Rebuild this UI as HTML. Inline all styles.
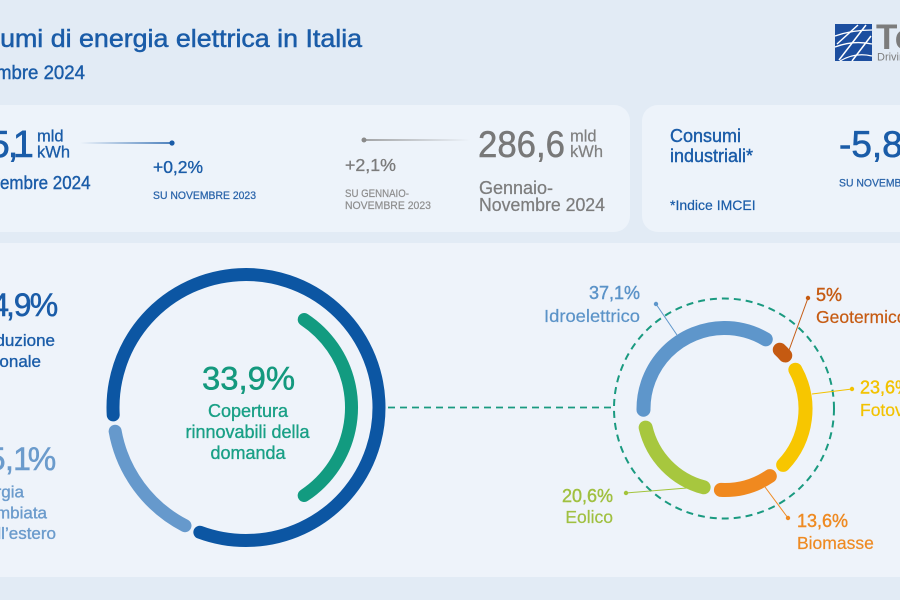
<!DOCTYPE html>
<html><head><meta charset="utf-8"><style>
html,body{margin:0;padding:0;background:#e2ebf5;}
svg{display:block;font-family:"Liberation Sans",Arial,sans-serif;}
</style></head><body>
<svg xmlns="http://www.w3.org/2000/svg" width="900" height="600" viewBox="0 0 900 600">
<defs>
<linearGradient id="g1" gradientUnits="userSpaceOnUse" x1="80" y1="0" x2="172" y2="0"><stop offset="0" stop-color="#1a5ca8" stop-opacity="0"/><stop offset="1" stop-color="#1a5ca8"/></linearGradient>
<linearGradient id="g2" gradientUnits="userSpaceOnUse" x1="364" y1="0" x2="470" y2="0"><stop offset="0" stop-color="#8a8a8a"/><stop offset="1" stop-color="#8a8a8a" stop-opacity="0"/></linearGradient>
</defs>
<rect width="900" height="600" fill="#e2ebf5"/>
<rect x="-20" y="105" width="650" height="127" rx="16" fill="#edf3fa"/>
<rect x="642" y="105" width="300" height="127" rx="16" fill="#edf3fa"/>
<rect x="-20" y="243" width="940" height="334" fill="#eef3fa"/>

<!-- Header -->
<text x="-62.5" y="47" font-size="25" textLength="424.6" lengthAdjust="spacingAndGlyphs" fill="#1a5ca8" stroke="#1a5ca8" stroke-width="0.5">Consumi di energia elettrica in Italia</text>
<text x="-47.5" y="79" font-size="19" textLength="132.5" lengthAdjust="spacingAndGlyphs" fill="#1a5ca8" stroke="#1a5ca8" stroke-width="0.4">Novembre 2024</text>

<!-- Logo -->
<rect x="835" y="24" width="37" height="37" fill="#1c4e9f"/>
<path d="M837 44 L858 25 M839 60 L866 25 M852 61 L871 36" stroke="#fff" stroke-width="1.5" fill="none"/>
<path d="M835 36 Q852 30 872 30 M835 47 Q853 40 872 44 M840 61 Q855 52 872 56" stroke="#fff" stroke-width="1.3" fill="none"/>
<text x="876" y="49" font-size="35" font-weight="bold" fill="#7c7c7c">Terna</text>
<text x="877" y="60.5" font-size="11" fill="#7c7c7c">Driving Energy</text>

<!-- Card 1 -->
<text x="-32 -11.4 7.7 12.8" y="157" font-size="38" fill="#1a5ca8" stroke="#1a5ca8" stroke-width="0.6">25,1</text>
<text x="37" y="141.5" font-size="16.5" fill="#1a5ca8" stroke="#1a5ca8" stroke-width="0.3">mld</text>
<text x="37" y="157.5" font-size="16.5" fill="#1a5ca8" stroke="#1a5ca8" stroke-width="0.3">kWh</text>
<text x="-30.2" y="189" font-size="18.5" textLength="120.7" lengthAdjust="spacingAndGlyphs" fill="#1a5ca8" stroke="#1a5ca8" stroke-width="0.4">Novembre 2024</text>
<line x1="80" y1="143" x2="172" y2="143" stroke="url(#g1)" stroke-width="1.6"/>
<circle cx="172" cy="143" r="2.6" fill="#1a5ca8"/>
<text x="153" y="173" font-size="17.5" textLength="50" lengthAdjust="spacingAndGlyphs" fill="#1a5ca8" stroke="#1a5ca8" stroke-width="0.35">+0,2%</text>
<text x="153" y="199" font-size="11" textLength="103" lengthAdjust="spacingAndGlyphs" fill="#2a64aa" stroke="#2a64aa" stroke-width="0.25">SU NOVEMBRE 2023</text>

<circle cx="364" cy="140" r="2.5" fill="#8a8a8a"/>
<line x1="364" y1="140" x2="470" y2="140" stroke="url(#g2)" stroke-width="1.6"/>
<text x="345" y="171" font-size="17.5" textLength="51" lengthAdjust="spacingAndGlyphs" fill="#7b7b7b" stroke="#7b7b7b" stroke-width="0.3">+2,1%</text>
<text x="345" y="197" font-size="11" textLength="64" lengthAdjust="spacingAndGlyphs" fill="#8d8d8d" stroke="#8d8d8d" stroke-width="0.2">SU GENNAIO-</text>
<text x="345" y="209" font-size="11" textLength="86" lengthAdjust="spacingAndGlyphs" fill="#8d8d8d" stroke="#8d8d8d" stroke-width="0.2">NOVEMBRE 2023</text>
<text x="478" y="157" font-size="37.5" textLength="87" lengthAdjust="spacingAndGlyphs" fill="#787878" stroke="#787878" stroke-width="0.5">286,6</text>
<text x="570" y="141.5" font-size="16.5" fill="#808080" stroke="#808080" stroke-width="0.2">mld</text>
<text x="570" y="157" font-size="16.5" fill="#808080" stroke="#808080" stroke-width="0.2">kWh</text>
<text x="479" y="194" font-size="18" fill="#7d7d7d" stroke="#7d7d7d" stroke-width="0.25">Gennaio-</text>
<text x="479" y="211" font-size="18" textLength="126" lengthAdjust="spacingAndGlyphs" fill="#7d7d7d" stroke="#7d7d7d" stroke-width="0.25">Novembre 2024</text>

<!-- Card 2 -->
<text x="670" y="142" font-size="18" fill="#1a5ca8" stroke="#1a5ca8" stroke-width="0.4">Consumi</text>
<text x="670" y="162" font-size="18" fill="#1a5ca8" stroke="#1a5ca8" stroke-width="0.4">industriali*</text>
<text x="670" y="210" font-size="14" fill="#1a5ca8" stroke="#1a5ca8" stroke-width="0.2">*Indice IMCEI</text>
<text x="839" y="157" font-size="37" fill="#1a5ca8" stroke="#1a5ca8" stroke-width="0.6">-5,8%</text>
<text x="839" y="186.5" font-size="11" textLength="103" lengthAdjust="spacingAndGlyphs" fill="#2a64aa" stroke="#2a64aa" stroke-width="0.25">SU NOVEMBRE 2023</text>

<!-- Bottom left -->
<text x="-26 -8.8 6 13.7 29.8" y="316" font-size="32" fill="#1a5ca8" stroke="#1a5ca8" stroke-width="0.5">84,9%</text>
<text x="55" y="346" font-size="17" text-anchor="end" fill="#1a5ca8" stroke="#1a5ca8" stroke-width="0.35">Produzione</text>
<text x="41" y="367" font-size="17" text-anchor="end" fill="#1a5ca8" stroke="#1a5ca8" stroke-width="0.35">nazionale</text>
<text x="-30 -12.3 5 13.1 27.8" y="470" font-size="32" fill="#6b9bcc" stroke="#6b9bcc" stroke-width="0.5">15,1%</text>
<text x="24" y="497.5" font-size="17" text-anchor="end" fill="#6b9bcc" stroke="#6b9bcc" stroke-width="0.35">Energia</text>
<text x="47" y="518.5" font-size="17" text-anchor="end" fill="#6b9bcc" stroke="#6b9bcc" stroke-width="0.35">scambiata</text>
<text x="56" y="539" font-size="17" text-anchor="end" fill="#6b9bcc" stroke="#6b9bcc" stroke-width="0.35">dall’estero</text>

<!-- Big donut -->
<circle cx="246" cy="407.5" r="133" fill="none" stroke="#0c56a3" stroke-width="13" stroke-linecap="round" stroke-dasharray="681.07 1000" transform="rotate(176.8 246 407.5)"/>
<circle cx="246" cy="407.5" r="133" fill="none" stroke="#6699cc" stroke-width="13" stroke-linecap="round" stroke-dasharray="121.64 1000" transform="rotate(117.3 246 407.5)"/>
<circle cx="246" cy="407.5" r="105.5" fill="none" stroke="#129b80" stroke-width="13" stroke-linecap="round" stroke-dasharray="208.07 1000" transform="rotate(-56.5 246 407.5)"/>
<text x="248.5" y="389.5" font-size="32.5" text-anchor="middle" textLength="93" lengthAdjust="spacingAndGlyphs" fill="#14997e" stroke="#14997e" stroke-width="0.5">33,9%</text>
<text x="248" y="417" font-size="18" text-anchor="middle" fill="#19a086" stroke="#19a086" stroke-width="0.35">Copertura</text>
<text x="247.5" y="438" font-size="18" text-anchor="middle" fill="#19a086" stroke="#19a086" stroke-width="0.35">rinnovabili della</text>
<text x="248" y="459" font-size="18" text-anchor="middle" fill="#19a086" stroke="#19a086" stroke-width="0.35">domanda</text>

<!-- Connector -->
<line x1="388" y1="407.5" x2="613" y2="407.5" stroke="#1a9a80" stroke-width="1.8" stroke-dasharray="7 5"/>

<!-- Small donut -->
<circle cx="724" cy="408.5" r="110" fill="none" stroke="#1a9a80" stroke-width="2" stroke-dasharray="7 5"/>
<circle cx="724.5" cy="409" r="81" fill="none" stroke="#5e96cb" stroke-width="14" stroke-linecap="round" stroke-dasharray="171.29 1000" transform="rotate(179.45 724.5 409)"/>
<circle cx="724.5" cy="409" r="81" fill="none" stroke="#c55a11" stroke-width="14" stroke-linecap="round" stroke-dasharray="7.92 1000" transform="rotate(313.01 724.5 409)"/>
<circle cx="724.5" cy="409" r="81" fill="none" stroke="#f7c600" stroke-width="14" stroke-linecap="round" stroke-dasharray="102.58 1000" transform="rotate(331.01 724.5 409)"/>
<circle cx="724.5" cy="409" r="81" fill="none" stroke="#f0891f" stroke-width="14" stroke-linecap="round" stroke-dasharray="51.69 1000" transform="rotate(55.97 724.5 409)"/>
<circle cx="724.5" cy="409" r="81" fill="none" stroke="#a7c73e" stroke-width="14" stroke-linecap="round" stroke-dasharray="87.31 1000" transform="rotate(104.93 724.5 409)"/>

<!-- Leaders -->
<line x1="656" y1="304" x2="677" y2="335" stroke="#5e96cb" stroke-width="1"/>
<circle cx="656" cy="304" r="2.2" fill="#5e96cb"/>
<line x1="808" y1="298" x2="788" y2="353" stroke="#c55a11" stroke-width="1"/>
<circle cx="808" cy="298" r="2.2" fill="#c55a11"/>
<line x1="812" y1="394" x2="852" y2="389" stroke="#f2c200" stroke-width="1"/>
<circle cx="852" cy="389" r="2.2" fill="#f2c200"/>
<line x1="626" y1="493" x2="687" y2="488" stroke="#a3c43a" stroke-width="1"/>
<circle cx="626" cy="493" r="2.2" fill="#a3c43a"/>
<line x1="765" y1="487" x2="788" y2="518" stroke="#ee8a22" stroke-width="1"/>
<circle cx="788" cy="518" r="2.2" fill="#ee8a22"/>

<!-- Labels -->
<text x="640" y="299" font-size="18" text-anchor="end" fill="#5b93c8" stroke="#5b93c8" stroke-width="0.4">37,1%</text>
<text x="640" y="322" font-size="17.5" text-anchor="end" textLength="96" lengthAdjust="spacingAndGlyphs" fill="#5b93c8" stroke="#5b93c8" stroke-width="0.2">Idroelettrico</text>
<text x="816" y="301" font-size="18" fill="#c65b12" stroke="#c65b12" stroke-width="0.4">5%</text>
<text x="816" y="323" font-size="17.5" fill="#c65b12" stroke="#c65b12" stroke-width="0.2">Geotermico</text>
<text x="860" y="393.5" font-size="18" fill="#f2c200" stroke="#f2c200" stroke-width="0.4">23,6%</text>
<text x="860" y="416" font-size="17.5" fill="#f2c200" stroke="#f2c200" stroke-width="0.2">Fotovoltaico</text>
<text x="613" y="502" font-size="18" text-anchor="end" fill="#a0c040" stroke="#a0c040" stroke-width="0.4">20,6%</text>
<text x="613" y="523" font-size="17.5" text-anchor="end" fill="#a0c040" stroke="#a0c040" stroke-width="0.2">Eolico</text>
<text x="797" y="527" font-size="18" fill="#ee8a22" stroke="#ee8a22" stroke-width="0.4">13,6%</text>
<text x="797" y="549" font-size="17.5" fill="#ee8a22" stroke="#ee8a22" stroke-width="0.2">Biomasse</text>
</svg>
</body></html>
